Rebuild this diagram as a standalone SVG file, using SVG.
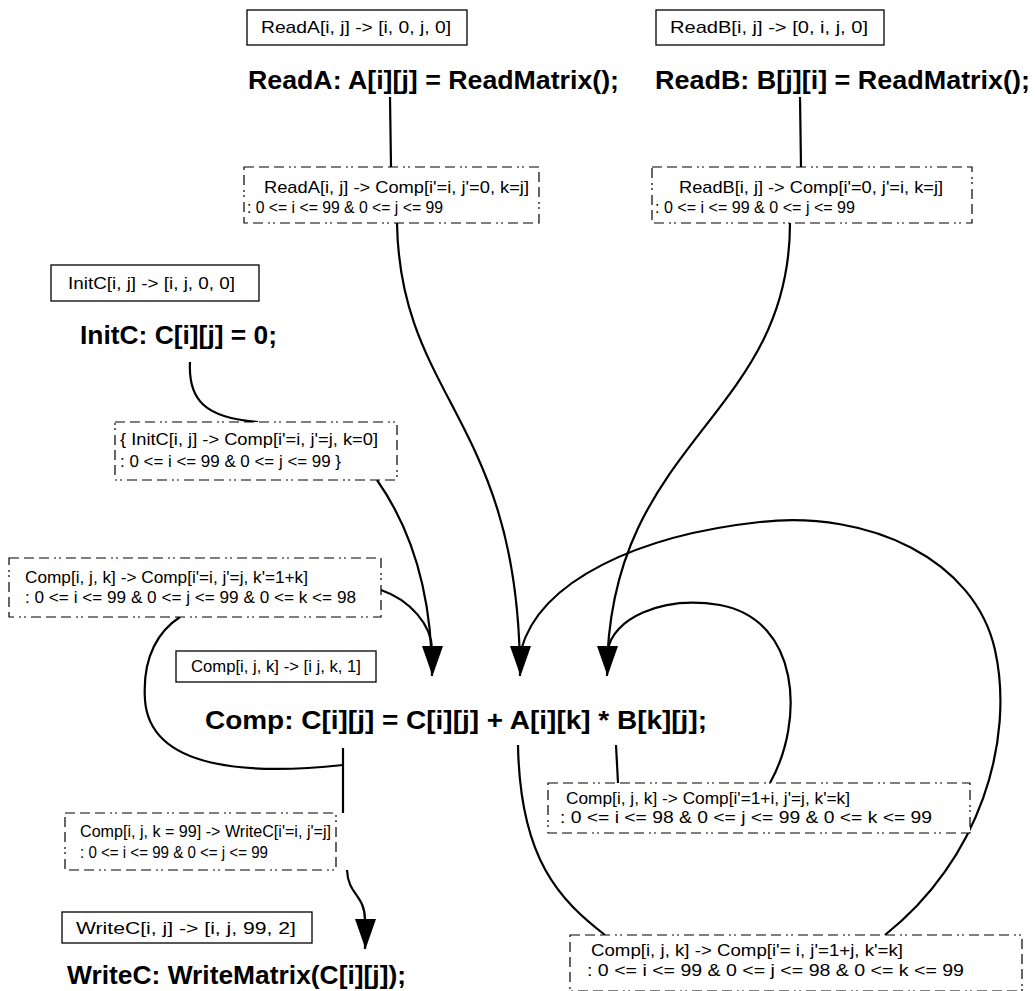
<svg xmlns="http://www.w3.org/2000/svg" width="1035" height="991" viewBox="0 0 1035 991">
  <defs>
    <marker id="arrow" markerUnits="userSpaceOnUse" markerWidth="30" markerHeight="22" viewBox="0 0 30 22" refX="30" refY="11" orient="auto">
      <path d="M0,0 L30,10.5 L0,21 z" fill="#000"/>
    </marker>
  </defs>
  <style>
    text { font-family: "Liberation Sans", Arial, sans-serif; fill: #000; }
    .sched rect { fill: #fff; stroke: #000; stroke-width: 1.3; }
    .sched text { font-size: 17px; }
    .stmt { font-size: 25px; font-weight: bold; }
    .dep rect { fill: #fff; stroke: #000; stroke-width: 1.2; stroke-dasharray: 10 5 10 5 10 5 2 3 2 5; }
    .dep text { font-size: 17px; }
    .edge { fill: none; stroke: #000; stroke-width: 2.2; }
  </style>
  <rect width="1035" height="991" fill="#fff"/>

  <!-- dependence edges -->
  <g id="edges">
    <path class="edge" d="M390,97 L391,167"/>
    <path class="edge" d="M397,223 C400,400 520,420 520,676" marker-end="url(#arrow)"/>
    <path class="edge" d="M800,97 L801,167"/>
    <path class="edge" d="M790,223 C790,420 607,440 607,676" marker-end="url(#arrow)"/>
    <path class="edge" d="M190,362 C188,400 205,418 258,422"/>
    <path class="edge" d="M377,480 C405,520 432,580 432,676" marker-end="url(#arrow)"/>
    <path class="edge" d="M343,748 L343,813"/>
    <path class="edge" d="M343,765 C250,775 150,770 145,700 C142,655 160,630 180,617"/>
    <path class="edge" d="M381,590 C410,600 432,625 432,650"/>
    <path class="edge" d="M347,870 C348,895 365,895 365,920 L365,949" marker-end="url(#arrow)"/>
    <path class="edge" d="M616,745 L618,783"/>
    <path class="edge" d="M770,783 C805,720 800,620 720,605 C660,595 612,620 608,650"/>
    <path class="edge" d="M518,745 C520,860 560,900 605,935"/>
    <path class="edge" d="M885,935 C980,860 1015,740 995,650 C975,560 870,510 760,522 C640,535 540,580 521,650"/>
  </g>

  <!-- statements with their schedules -->
  <g id="node-readA">
    <g class="sched">
      <rect x="247" y="10" width="220" height="35"/>
      <text x="261" y="33" textLength="190" lengthAdjust="spacingAndGlyphs">ReadA[i, j] -&gt; [i, 0, j, 0]</text>
    </g>
    <text class="stmt" x="248" y="89" textLength="371" lengthAdjust="spacingAndGlyphs">ReadA: A[i][j] = ReadMatrix();</text>
  </g>
  <g id="node-readB">
    <g class="sched">
      <rect x="656" y="10" width="228" height="35"/>
      <text x="670" y="33" textLength="198" lengthAdjust="spacingAndGlyphs">ReadB[i, j] -&gt; [0, i, j, 0]</text>
    </g>
    <text class="stmt" x="655" y="89" textLength="375" lengthAdjust="spacingAndGlyphs">ReadB: B[j][i] = ReadMatrix();</text>
  </g>
  <g id="node-initC">
    <g class="sched">
      <rect x="51" y="265" width="208" height="36"/>
      <text x="68" y="289" textLength="167" lengthAdjust="spacingAndGlyphs">InitC[i, j] -&gt; [i, j, 0, 0]</text>
    </g>
    <text class="stmt" x="80" y="344" textLength="197" lengthAdjust="spacingAndGlyphs">InitC: C[i][j] = 0;</text>
  </g>
  <g id="node-comp">
    <g class="sched">
      <rect x="176" y="651" width="200" height="31"/>
      <text x="191" y="672" textLength="170" lengthAdjust="spacingAndGlyphs">Comp[i, j, k] -&gt; [i j, k, 1]</text>
    </g>
    <text class="stmt" x="205" y="729" textLength="502" lengthAdjust="spacingAndGlyphs">Comp: C[i][j] = C[i][j] + A[i][k] * B[k][j];</text>
  </g>
  <g id="node-writeC">
    <g class="sched">
      <rect x="62" y="912" width="250" height="31"/>
      <text x="76" y="934" textLength="220" lengthAdjust="spacingAndGlyphs">WriteC[i, j] -&gt; [i, j, 99, 2]</text>
    </g>
    <text class="stmt" x="67" y="984" textLength="339" lengthAdjust="spacingAndGlyphs">WriteC: WriteMatrix(C[i][j]);</text>
  </g>

  <!-- dependence relations -->
  <g id="dep-readA-comp" class="dep">
    <rect x="244" y="167" width="295" height="56"/>
    <text x="264" y="193" textLength="265" lengthAdjust="spacingAndGlyphs">ReadA[i, j] -&gt; Comp[i'=i, j'=0, k=j]</text>
    <text x="247" y="213" textLength="196" lengthAdjust="spacingAndGlyphs">: 0 &lt;= i &lt;= 99 &amp; 0 &lt;= j &lt;= 99</text>
  </g>
  <g id="dep-readB-comp" class="dep">
    <rect x="652" y="167" width="320" height="56"/>
    <text x="679" y="193" textLength="264" lengthAdjust="spacingAndGlyphs">ReadB[i, j] -&gt; Comp[i'=0, j'=i, k=j]</text>
    <text x="655" y="213" textLength="200" lengthAdjust="spacingAndGlyphs">: 0 &lt;= i &lt;= 99 &amp; 0 &lt;= j &lt;= 99</text>
  </g>
  <g id="dep-initC-comp" class="dep">
    <rect x="115" y="422" width="282" height="58"/>
    <text x="120" y="445" textLength="258" lengthAdjust="spacingAndGlyphs">{ InitC[i, j] -&gt; Comp[i'=i, j'=j, k=0]</text>
    <text x="120" y="467" textLength="221" lengthAdjust="spacingAndGlyphs">: 0 &lt;= i &lt;= 99 &amp; 0 &lt;= j &lt;= 99 }</text>
  </g>
  <g id="dep-comp-k" class="dep">
    <rect x="9" y="558" width="372" height="59"/>
    <text x="25" y="583" textLength="283" lengthAdjust="spacingAndGlyphs">Comp[i, j, k] -&gt; Comp[i'=i, j'=j, k'=1+k]</text>
    <text x="25" y="603" textLength="331" lengthAdjust="spacingAndGlyphs">: 0 &lt;= i &lt;= 99 &amp; 0 &lt;= j &lt;= 99 &amp; 0 &lt;= k &lt;= 98</text>
  </g>
  <g id="dep-comp-writeC" class="dep">
    <rect x="65" y="813" width="271" height="57"/>
    <text x="80" y="837" textLength="251" lengthAdjust="spacingAndGlyphs">Comp[i, j, k = 99] -&gt; WriteC[i'=i, j'=j]</text>
    <text x="80" y="858" textLength="188" lengthAdjust="spacingAndGlyphs">: 0 &lt;= i &lt;= 99 &amp; 0 &lt;= j &lt;= 99</text>
  </g>
  <g id="dep-comp-i" class="dep">
    <rect x="548" y="783" width="422" height="50"/>
    <text x="566" y="804" textLength="284" lengthAdjust="spacingAndGlyphs">Comp[i, j, k] -&gt; Comp[i'=1+i, j'=j, k'=k]</text>
    <text x="560" y="823" textLength="372" lengthAdjust="spacingAndGlyphs">: 0 &lt;= i &lt;= 98 &amp; 0 &lt;= j &lt;= 99 &amp; 0 &lt;= k &lt;= 99</text>
  </g>
  <g id="dep-comp-j" class="dep">
    <rect x="570" y="935" width="452" height="56"/>
    <text x="591" y="956" textLength="312" lengthAdjust="spacingAndGlyphs">Comp[i, j, k] -&gt; Comp[i'= i, j'=1+j, k'=k]</text>
    <text x="587" y="976" textLength="377" lengthAdjust="spacingAndGlyphs">: 0 &lt;= i &lt;= 99 &amp; 0 &lt;= j &lt;= 98 &amp; 0 &lt;= k &lt;= 99</text>
  </g>
</svg>
